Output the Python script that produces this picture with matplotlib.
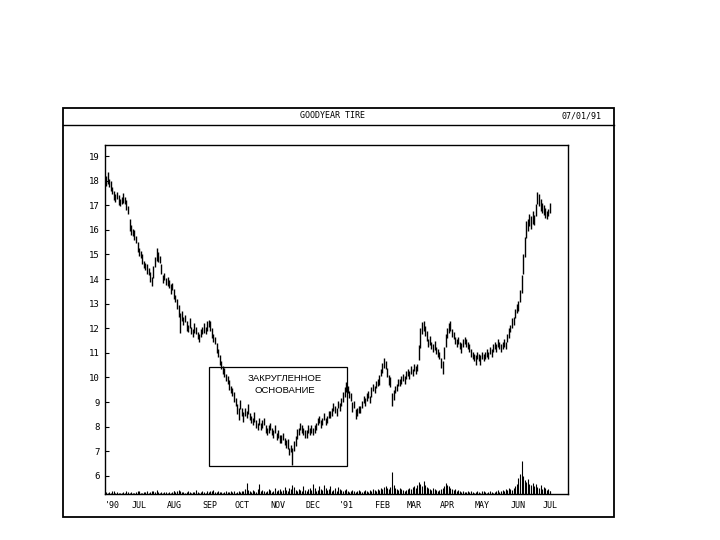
import numpy as np
import pandas as pd
import matplotlib
matplotlib.use("Agg")
import matplotlib.pyplot as plt
from matplotlib.patches import Rectangle
from matplotlib.lines import Line2D

# daily bars, one per trading day starting 1 Jun 1990 (ends 1 Jul 1991)
START = "1990-06-01"

MID_PRICE = [
    18.0, 18.1, 17.9, 17.8, 17.6, 17.4, 17.3, 17.4, 17.2, 17.1,
    17.2, 17.3, 17.2, 17.0, 16.8, 16.2, 16.0, 15.9, 15.8, 15.6,
    15.3, 15.1, 15.0, 14.8, 14.6, 14.5, 14.4, 14.3, 14.1, 13.9,
    14.3, 14.7, 15.0, 14.9, 14.8, 14.4, 14.0, 14.1, 13.9, 13.9,
    13.8, 13.6, 13.7, 13.4, 13.2, 13.0, 12.7, 12.2, 12.5, 12.3,
    12.4, 12.1, 12.0, 12.2, 11.9, 11.8, 12.0, 11.9, 11.7, 11.6,
    11.8, 11.9, 12.0, 11.9, 12.1, 12.2, 12.1, 11.8, 11.6, 11.5,
    11.2, 11.0, 10.7, 10.5, 10.3, 10.2, 10.0, 9.9, 9.7, 9.5,
    9.4, 9.2, 9.0, 8.7, 8.5, 8.9, 8.6, 8.4, 8.6, 8.5,
    8.7, 8.4, 8.3, 8.2, 8.4, 8.1, 8.0, 8.2, 8.0, 8.1,
    8.2, 7.9, 7.8, 7.9, 8.0, 7.8, 7.7, 7.9, 7.6, 7.7,
    7.5, 7.5, 7.6, 7.4, 7.3, 7.3, 7.0, 7.1, 6.8, 7.2,
    7.4, 7.7, 7.8, 8.0, 7.9, 7.8, 7.7, 7.7, 7.9, 7.8,
    7.9, 7.8, 7.9, 8.0, 8.2, 8.3, 8.1, 8.2, 8.4, 8.2,
    8.3, 8.5, 8.5, 8.6, 8.8, 8.7, 8.6, 8.9, 8.8, 9.0,
    9.2, 9.4, 9.6, 9.5, 9.3, 9.2, 8.8, 8.9, 8.5, 8.6,
    8.7, 8.7, 8.9, 9.1, 9.0, 9.2, 9.3, 9.1, 9.4, 9.6,
    9.5, 9.7, 9.8, 9.9, 10.2, 10.4, 10.6, 10.5, 10.2, 9.9,
    9.8, 9.1, 9.3, 9.5, 9.6, 9.8, 9.8, 9.9, 10.0, 9.9,
    10.1, 10.2, 10.1, 10.3, 10.2, 10.4, 10.3, 10.4, 11.0, 11.6,
    12.0, 12.1, 11.9, 11.7, 11.4, 11.5, 11.3, 11.2, 11.3, 11.1,
    11.0, 10.9, 10.6, 10.4, 11.0, 11.5, 11.8, 12.0, 12.1, 11.8,
    11.7, 11.5, 11.4, 11.5, 11.3, 11.2, 11.4, 11.5, 11.4, 11.3,
    11.2, 11.0, 10.9, 10.8, 10.7, 10.9, 10.8, 10.7, 10.9, 10.8,
    10.9, 11.0, 10.9, 11.1, 11.0, 11.2, 11.3, 11.2, 11.4, 11.3,
    11.2, 11.3, 11.4, 11.3, 11.6, 11.8, 12.0, 12.2, 12.3, 12.6,
    12.8, 12.9, 13.3, 13.8, 14.6, 15.3, 16.0, 16.2, 16.4, 16.3,
    16.5, 16.4, 16.8, 17.3, 17.2, 17.0, 16.9, 16.8, 16.7, 16.6,
    16.7, 16.9,
]

DAY_RANGE = [
    .4, .5, .3, .4, .3, .4, .3, .3, .4, .3,
    .3, .4, .3, .4, .3, .5, .4, .3, .4, .3,
    .4, .3, .3, .4, .3, .3, .4, .3, .4, .4,
    .5, .4, .5, .4, .3, .4, .3, .3, .3, .4,
    .3, .4, .3, .4, .3, .4, .5, .8, .4, .3,
    .3, .4, .3, .4, .3, .3, .4, .3, .3, .3,
    .3, .3, .4, .3, .4, .3, .4, .4, .3, .3,
    .4, .3, .4, .3, .3, .4, .3, .3, .4, .3,
    .3, .4, .3, .4, .5, .4, .3, .4, .3, .3,
    .4, .3, .3, .3, .4, .3, .3, .3, .3, .3,
    .3, .3, .3, .3, .3, .3, .3, .3, .3, .3,
    .3, .3, .3, .3, .3, .4, .3, .3, .7, .4,
    .4, .4, .3, .3, .3, .3, .3, .3, .3, .3,
    .3, .3, .3, .3, .3, .3, .3, .3, .3, .3,
    .3, .3, .3, .3, .3, .3, .3, .3, .3, .3,
    .4, .4, .4, .3, .3, .3, .4, .3, .4, .3,
    .3, .3, .3, .3, .3, .3, .3, .3, .4, .3,
    .3, .3, .3, .4, .3, .4, .4, .3, .4, .4,
    .4, .5, .4, .3, .3, .3, .3, .3, .3, .3,
    .3, .3, .3, .3, .3, .3, .3, .3, .6, .8,
    .5, .4, .4, .4, .3, .4, .3, .3, .4, .3,
    .3, .3, .4, .5, .5, .5, .4, .4, .4, .3,
    .3, .3, .3, .3, .3, .4, .3, .3, .3, .3,
    .3, .3, .3, .3, .4, .3, .3, .4, .3, .3,
    .3, .3, .3, .3, .3, .3, .3, .3, .3, .3,
    .3, .3, .3, .3, .3, .4, .3, .4, .3, .4,
    .4, .4, .5, .7, .8, .8, .7, .5, .5, .5,
    .5, .4, .5, .5, .5, .5, .4, .4, .4, .3,
    .3, .4,
]

# volume, 10k shares
VOLUME = [
    2, 1, 2, 1, 1, 3, 1, 2, 1, 1,
    1, 2, 1, 3, 2, 1, 2, 1, 1, 2,
    3, 2, 1, 1, 2, 2, 3, 1, 2, 3,
    3, 2, 4, 2, 1, 2, 1, 2, 2, 1,
    2, 1, 2, 3, 2, 3, 4, 3, 2, 2,
    1, 2, 3, 2, 1, 2, 2, 4, 2, 1,
    2, 3, 2, 1, 3, 2, 2, 3, 4, 2,
    2, 3, 2, 2, 1, 2, 3, 2, 2, 3,
    2, 3, 1, 2, 3, 2, 2, 3, 5, 11,
    4, 3, 2, 4, 3, 2, 5, 10, 3, 4,
    3, 2, 3, 5, 4, 2, 3, 6, 3, 4,
    5, 3, 4, 7, 4, 3, 6, 5, 9, 7,
    4, 3, 5, 4, 3, 8, 4, 3, 5, 6,
    4, 10, 6, 3, 4, 8, 5, 4, 9, 6,
    4, 5, 8, 3, 4, 6, 3, 7, 5, 4,
    3, 4, 5, 3, 2, 3, 4, 3, 2, 3,
    4, 3, 2, 3, 4, 3, 2, 4, 3, 5,
    4, 3, 5, 4, 6, 5, 7, 8, 6, 5,
    7, 22, 9, 6, 5, 4, 6, 5, 4, 3,
    4, 5, 6, 5, 7, 8, 6, 9, 12, 10,
    8, 13, 9, 7, 6, 5, 4, 6, 5, 4,
    3, 4, 5, 6, 8, 11, 9, 8, 6, 5,
    4, 5, 3, 4, 3, 2, 3, 2, 2, 3,
    2, 3, 2, 1, 2, 3, 2, 1, 2, 3,
    2, 1, 2, 3, 2, 1, 2, 3, 4, 2,
    3, 4, 3, 5, 4, 6, 5, 4, 6, 8,
    10, 16, 20, 33, 18, 14, 12, 15, 10, 9,
    11, 8, 10, 7, 6, 9, 5, 7, 6, 4,
    5, 3,
]

MONTH_LABELS = ["'90", "JUL", "AUG", "SEP", "OCT", "NOV", "DEC",
                "'91", "FEB", "MAR", "APR", "MAY", "JUN", "JUL"]
PRICE_TICKS = list(range(6, 20))

TITLE = "GOODYEAR TIRE"
DATE_TEXT = "07/01/91"
NOTE = "ЗАКРУГЛЕННОЕ\nОСНОВАНИЕ"

W, H = 720, 540
MONO = "DejaVu Sans Mono"


def fx(px):
    return px / W


def fy(py):
    return 1 - py / H


def main():
    mid = np.asarray(MID_PRICE, dtype=float)
    rng = np.asarray(DAY_RANGE, dtype=float)
    idx = np.arange(len(mid))
    dates = pd.bdate_range(START, periods=len(mid))

    key = dates.year * 12 + dates.month
    starts = np.r_[0, np.nonzero(np.diff(key))[0] + 1].astype(float)
    starts[0] = 4  # year label sits a few days into June

    fig = plt.figure(figsize=(W / 100, H / 100), dpi=100)

    # outer frame + header strip
    fig.add_artist(Rectangle((fx(63), fy(517)), fx(614) - fx(63), fy(108) - fy(517),
                             transform=fig.transFigure, fill=False, lw=1.3, color="black"))
    fig.add_artist(Line2D([fx(63), fx(614)], [fy(125), fy(125)],
                          transform=fig.transFigure, lw=1.0, color="black"))
    fig.text(fx(333), fy(116), TITLE, family=MONO, fontsize=6, ha="center", va="center")
    fig.text(fx(582), fy(116), DATE_TEXT, family=MONO, fontsize=6, ha="center", va="center")

    ax = fig.add_axes([fx(105), fy(494), fx(568) - fx(105), fy(145) - fy(494)])
    ax.vlines(idx, mid - rng / 2, mid + rng / 2, color="black", lw=1.0)

    ax.set_xlim(-0.6, 292.4)
    ax.set_ylim(5.26, 19.45)
    ax.set_yticks(PRICE_TICKS)
    ax.set_yticklabels([str(t) for t in PRICE_TICKS], family=MONO, fontsize=6.5)
    ax.tick_params(axis="y", direction="in", length=3, width=0.8,
                   left=True, right=True, labelleft=True, labelright=True, pad=4)
    ax.set_xticks(starts)
    ax.set_xticklabels(MONTH_LABELS, family=MONO, fontsize=6)
    ax.tick_params(axis="x", direction="in", length=2, width=0.8, pad=5)
    for s in ax.spines.values():
        s.set_linewidth(1.0)

    # volume along the bottom
    vax = ax.twinx()
    vax.vlines(idx, 0, VOLUME, color="black", lw=0.8)
    vax.set_ylim(0, 349)
    vax.set_axis_off()

    # rounded bottom annotation
    ax.add_patch(Rectangle((65.2, 6.40), 152.5 - 65.2, 10.42 - 6.40,
                           fill=False, lw=0.9, color="black"))
    ax.text(113, 9.72, NOTE, ha="center", va="center", fontsize=6.8,
            family=["Liberation Sans Narrow", "Liberation Sans", "DejaVu Sans"],
            linespacing=1.35)

    fig.savefig("out.png", dpi=100, facecolor="white")
    plt.close(fig)


if __name__ == "__main__":
    main()
